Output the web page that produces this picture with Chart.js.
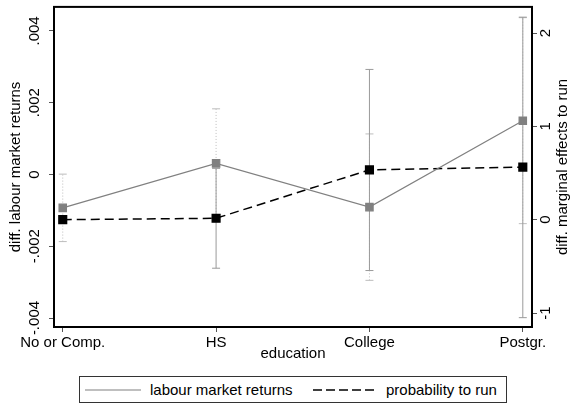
<!DOCTYPE html>
<html>
<head>
<meta charset="utf-8">
<script src="https://cdn.jsdelivr.net/npm/chart.js@4/dist/chart.umd.min.js"></script>
<style>
  body { margin: 0; background: #fff; }
  #wrap { position: relative; width: 571px; height: 406px; }
  #legend { position: absolute; left: 0; top: 0; }
</style>
</head>
<body>
<div id="wrap">
  <canvas id="eduChart" width="571" height="406"></canvas>
  <svg id="legend" width="571" height="406" font-family="Liberation Sans, Arial, sans-serif" font-size="15">
    <rect x="79.5" y="376.5" width="427" height="26" fill="#fff" stroke="#333" stroke-width="1"/>
    <line x1="85" y1="390" x2="141" y2="390" stroke="#808080" stroke-width="1.2"/>
    <text x="150" y="395" fill="#000">labour market returns</text>
    <line x1="313" y1="390" x2="377" y2="390" stroke="#000" stroke-width="1.5" stroke-dasharray="9,4"/>
    <text x="386" y="395" fill="#000">probability to run</text>
  </svg>
</div>
<script>
// categories and values
const categories = ['No or Comp.', 'HS', 'College', 'Postgr.'];
const labourReturns = [-0.00093, 0.00031, -0.00091, 0.0015];
const labourLow = [-0.00187, -0.00121, -0.00295, -0.00137];
const labourHigh = [0.00001, 0.00183, 0.00113, 0.00437];
const probRun = [0, 0.015, 0.534, 0.563];
const probLow = [0, -0.52, -0.545, -1.05];
const probHigh = [0, 0.55, 1.61, 2.17];
const leftTicks = [-0.004, -0.002, 0, 0.002, 0.004];
const rightTicks = [-1, 0, 1, 2];

Chart.defaults.font.family = '"Liberation Sans", Arial, sans-serif';
Chart.defaults.font.size = 15;
Chart.defaults.color = '#000';

const pts = arr => arr.map((v, i) => ({ x: i, y: v }));

// one small two-point line per category = an error bar with caps
function errorBars(lo, hi, axis, color, dash) {
  return categories
    .map((c, i) => ({
      type: 'line',
      data: [{ x: i, y: lo[i] }, { x: i, y: hi[i] }],
      yAxisID: axis,
      borderColor: color,
      borderWidth: 1,
      borderDash: dash,
      pointStyle: 'line',
      pointRadius: 4,
      pointBorderColor: color,
      pointBorderWidth: 1,
      pointBackgroundColor: color
    }))
    .filter((d, i) => lo[i] !== hi[i]);
}

const fmtLeft = v => v === 0 ? '0' : (v < 0 ? '-' : '') + Math.abs(v).toFixed(3).replace(/^0/, '');

const frame = {
  id: 'frame',
  afterDraw(chart) {
    const { ctx, chartArea: a } = chart;
    ctx.save();
    ctx.strokeStyle = '#000';
    ctx.lineWidth = 2;
    ctx.strokeRect(a.left, a.top, a.right - a.left, a.bottom - a.top);
    // right axis title, reading bottom to top like the left one
    ctx.fillStyle = '#000';
    ctx.font = '15px "Liberation Sans", Arial, sans-serif';
    ctx.translate(563, (a.top + a.bottom) / 2);
    ctx.rotate(-Math.PI / 2);
    ctx.textAlign = 'center';
    ctx.textBaseline = 'middle';
    ctx.fillText('diff. marginal effects to run', 0, 0);
    ctx.restore();
  }
};

const tickGrid = { drawOnChartArea: false, tickLength: 5, color: '#555' };

new Chart(document.getElementById('eduChart'), {
  type: 'line',
  data: {
    datasets: [
      {
        label: 'labour market returns',
        data: pts(labourReturns),
        yAxisID: 'y',
        borderColor: '#808080',
        borderWidth: 1.2,
        pointStyle: 'rect',
        pointRadius: 5.2,
        pointBackgroundColor: '#808080',
        pointBorderColor: '#808080',
        tension: 0
      },
      {
        label: 'probability to run',
        data: pts(probRun),
        yAxisID: 'y1',
        borderColor: '#000',
        borderWidth: 1.5,
        borderDash: [9, 5],
        pointStyle: 'rect',
        pointRadius: 5.4,
        pointBackgroundColor: '#000',
        pointBorderColor: '#000',
        tension: 0
      },
      ...errorBars(probLow, probHigh, 'y1', '#9a9a9a', []),
      ...errorBars(labourLow, labourHigh, 'y', '#bdbdbd', [1, 2])
    ]
  },
  options: {
    responsive: false,
    animation: false,
    layout: { padding: { top: 6, left: 0, right: 0, bottom: 0 } },
    plugins: { legend: { display: false }, tooltip: { enabled: false } },
    scales: {
      x: {
        type: 'linear',
        min: -0.057,
        max: 3.06,
        afterBuildTicks: s => { s.ticks = categories.map((c, i) => ({ value: i })); },
        afterFit: s => { s.height = 79; s.paddingLeft = 0; s.paddingRight = 0; },
        ticks: { padding: 2, maxRotation: 0, autoSkip: false, callback: v => categories[v] },
        grid: tickGrid,
        border: { display: false },
        title: { display: true, text: 'education', padding: { top: 0, bottom: 43 } }
      },
      y: {
        position: 'left',
        min: -0.00425,
        max: 0.00467,
        afterBuildTicks: s => { s.ticks = leftTicks.map(v => ({ value: v })); },
        afterFit: s => { s.width = 54; s.paddingTop = 0; s.paddingBottom = 0; },
        ticks: { minRotation: 90, maxRotation: 90, crossAlign: 'center', padding: -3, callback: fmtLeft },
        grid: tickGrid,
        border: { display: false },
        title: { display: true, text: 'diff. labour market returns', padding: { top: 7, bottom: 0 } }
      },
      y1: {
        position: 'right',
        min: -1.15,
        max: 2.28,
        afterBuildTicks: s => { s.ticks = rightTicks.map(v => ({ value: v })); },
        afterFit: s => { s.width = 39; s.paddingTop = 0; s.paddingBottom = 0; },
        ticks: { minRotation: 90, maxRotation: 90, crossAlign: 'center', padding: 2.3, callback: v => String(v) },
        grid: tickGrid,
        border: { display: false }
      }
    }
  },
  plugins: [frame]
});
</script>
</body>
</html>
